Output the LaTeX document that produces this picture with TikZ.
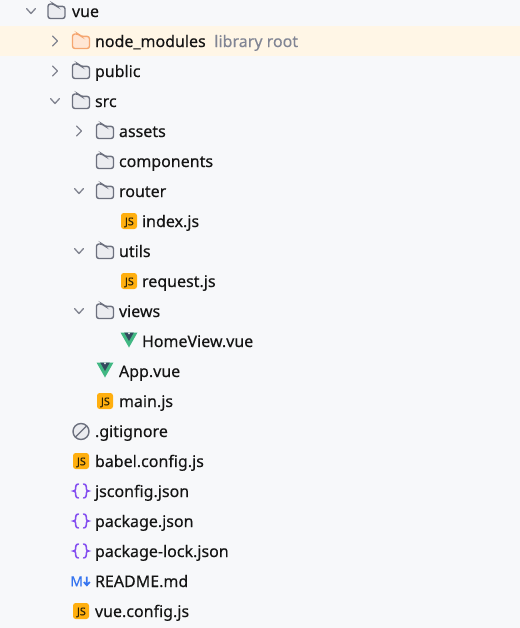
\documentclass[tikz,border=0pt]{standalone}
\usepackage{fontspec}
\setmainfont{Noto Sans}[RawFeature={embolden=0.25}]
\usetikzlibrary{positioning}
\definecolor{panelbg}{HTML}{F7F8FA}
\definecolor{rowbg}{HTML}{FFF6E6}
\definecolor{iconline}{HTML}{6C707E}
\definecolor{iconfill}{HTML}{EBECF0}
\definecolor{libline}{HTML}{F5A670}
\definecolor{libfill}{HTML}{FFE6D4}
\definecolor{hintgray}{HTML}{818594}
\definecolor{jsfill}{HTML}{FFAF0F}
\definecolor{jsink}{HTML}{2E2205}
\definecolor{vuegreen}{HTML}{41B883}
\definecolor{vuedark}{HTML}{35495E}
\definecolor{jsonink}{HTML}{834DF0}
\definecolor{mdblue}{HTML}{3574F0}
\tikzset{
  item/.style={anchor=base west, inner sep=0pt, outer sep=0pt, text=black!92, font=\fontsize{12}{14}\selectfont},
  hint/.style={item, text=hintgray},
  chevron/.style={draw=iconline!85, line width=1pt, line cap=round, line join=round},
  foldershape/.pic={
    \draw[pic actions, line width=1.05pt, rounded corners=1.8pt]
      (-8.5,7.5) -- (-8.5,-7) -- (-2.5,-7) -- (0,-4.6) -- (8.5,-4.6) -- (8.5,7.5) -- cycle;
  },
  folder/.style={draw=iconline, fill=iconfill},
  libfolder/.style={draw=libline, fill=libfill},
  closed/.pic={\draw[chevron] (-2.5,-5) -- (2.5,0) -- (-2.5,5);},
  opened/.pic={\draw[chevron] (-4.5,-2.5) -- (0,2.5) -- (4.5,-2.5);},
  jsicon/.pic={
    \fill[jsfill, rounded corners=2pt] (-8,-8) rectangle (8,8);
    \node[inner sep=0pt, text=jsink, font=\bfseries\fontsize{8}{9}\selectfont] (-label) at (0.4,1.4) {JS};
  },
  vueicon/.pic={
    \fill[vuegreen] (-8.5,-7.5) -- (8.5,-7.5) -- (0,7.5) -- cycle;
    \fill[vuedark] (-4.8,-7.5) -- (4.8,-7.5) -- (0,1) -- cycle;
    \fill[panelbg] (-1.2,-7.5) -- (1.2,-7.5) -- (0,-5.3) -- cycle;
  },
  jsonicon/.pic={
    \draw[jsonink, line width=1.15pt, line cap=round]
      (-2.5,-7) .. controls (-5.8,-7) and (-5.4,-3) .. (-5.4,-2) .. controls (-5.4,-0.8) and (-6.3,0) .. (-7.8,0)
      .. controls (-6.3,0) and (-5.4,0.8) .. (-5.4,2) .. controls (-5.4,3) and (-5.8,7) .. (-2.5,7);
    \draw[jsonink, line width=1.15pt, line cap=round]
      (2.5,-7) .. controls (5.8,-7) and (5.4,-3) .. (5.4,-2) .. controls (5.4,-0.8) and (6.3,0) .. (7.8,0)
      .. controls (6.3,0) and (5.4,0.8) .. (5.4,2) .. controls (5.4,3) and (5.8,7) .. (2.5,7);
  },
  ignoreicon/.pic={
    \draw[iconline, fill=iconfill, line width=1.05pt] (0,0.5) circle (8 and -8);
    \draw[iconline, line width=1.05pt] (-5.6,6.1) -- (5.6,-5.1);
  },
  mdicon/.pic={
    \node[inner sep=0pt, text=mdblue, font=\bfseries\fontsize{10.5}{11}\selectfont] (-label) at (-4.3,0.3) {M};
    \draw[mdblue, line width=1.25pt] (5.8,-4.5) -- (5.8,4) (2.8,1) -- (5.8,4.3) -- (8.8,1);
  },
}
\begin{document}
\begin{tikzpicture}[x=0.75pt, y=-0.75pt]
  \useasboundingbox (0,0) rectangle (520,628);
  \fill[panelbg] (0,0) rectangle (520,628);
  \fill[rowbg] (0,26) rectangle (520,56);

  % top level
  \pic at (31,11) {opened};
  \pic[folder] at (56.5,11) {foldershape};
  \node[item] (vue) at (72,17) {vue};

  \pic at (55,41) {closed};
  \pic[libfolder] at (81,41) {foldershape};
  \node[item] (nodemodules) at (95,47) {node\_modules};
  \node[hint, right=6.5pt of nodemodules.base east, anchor=base west] (libroot) {library root};

  \pic at (55,71) {closed};
  \pic[folder] at (81,71) {foldershape};
  \node[item] (public) at (95,77) {public};

  \pic at (55,101) {opened};
  \pic[folder] at (81,101) {foldershape};
  \node[item] (src) at (95,107) {src};

  % inside src
  \pic at (79,131) {closed};
  \pic[folder] at (105,131) {foldershape};
  \node[item] (assets) at (119,137) {assets};

  \pic[folder] at (105,161) {foldershape};
  \node[item] (components) at (119,167) {components};

  \pic at (79,191) {opened};
  \pic[folder] at (105,191) {foldershape};
  \node[item] (router) at (119,197) {router};

  \pic (jsindex) at (129,221) {jsicon};
  \node[item] (index) at (142,227) {index.js};

  \pic at (79,251) {opened};
  \pic[folder] at (105,251) {foldershape};
  \node[item] (utils) at (119,257) {utils};

  \pic (jsrequest) at (129,281) {jsicon};
  \node[item] (request) at (142,287) {request.js};

  \pic at (79,311) {opened};
  \pic[folder] at (105,311) {foldershape};
  \node[item] (views) at (119,317) {views};

  \pic (vuehome) at (129,340) {vueicon};
  \node[item] (homeview) at (142,347) {HomeView.vue};

  \pic (vueapp) at (105,370) {vueicon};
  \node[item] (appvue) at (119,377) {App.vue};

  \pic (jsmain) at (105,401) {jsicon};
  \node[item] (mainjs) at (119,407) {main.js};

  % files in vue
  \pic at (81,431) {ignoreicon};
  \node[item] (gitignore) at (95,437) {.gitignore};

  \pic (jsbabel) at (81,461) {jsicon};
  \node[item] (babel) at (95,467) {babel.config.js};

  \pic at (81,491) {jsonicon};
  \node[item] (jsconfig) at (95,497) {jsconfig.json};

  \pic at (81,521) {jsonicon};
  \node[item] (package) at (95,527) {package.json};

  \pic at (81,551) {jsonicon};
  \node[item] (packagelock) at (95,557) {package-lock.json};

  \pic (mdreadme) at (81,581) {mdicon};
  \node[item] (readme) at (95,587) {README.md};

  \pic (jsvue) at (81,611) {jsicon};
  \node[item] (vueconfig) at (95,617) {vue.config.js};
\end{tikzpicture}
\end{document}
